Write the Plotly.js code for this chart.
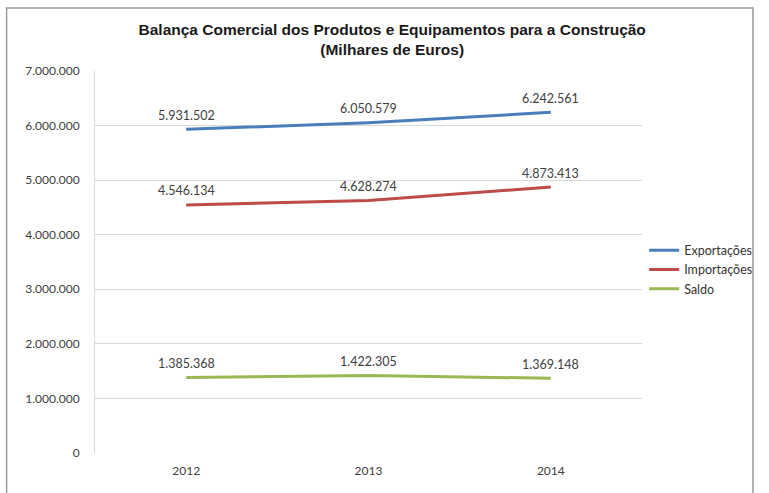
<!DOCTYPE html>
<html>
<head>
<meta charset="utf-8">
<script src="https://cdn.plot.ly/plotly-3.0.1.min.js"></script>
<style>html,body{margin:0;padding:0;background:#fff;}#chart{width:769px;height:493px;}</style>
</head>
<body>
<div id="chart"></div>
<script>
const years = ['2012', '2013', '2014'];
const exportacoes = [5931502, 6050579, 6242561];
const importacoes = [4546134, 4628274, 4873413];
const saldo = [1385368, 1422305, 1369148];
const seriesNames = ['Exportações', 'Importações', 'Saldo'];
const colors = ['#4a7ebb', '#be4b48', '#98b954'];
const yTicks = [0, 1000000, 2000000, 3000000, 4000000, 5000000, 6000000, 7000000];

const font = 'Lato, "Open Sans", sans-serif';
const fmt = v => String(v).replace(/\B(?=(\d{3})+(?!\d))/g, '.');
const allSeries = [exportacoes, importacoes, saldo];

const data = allSeries.map((vals, i) => ({
  x: years, y: vals, name: seriesNames[i], type: 'scatter', mode: 'lines',
  line: {color: colors[i], width: 3}
}));

const annotations = [];
allSeries.forEach(vals => {
  vals.forEach((v, j) => {
    annotations.push({x: j, y: v, xref: 'x', yref: 'y', text: fmt(v), showarrow: false,
      yshift: 14, font: {family: font, size: 12.5, color: '#404040'}});
  });
});

const layout = {
  width: 769, height: 493,
  margin: {l: 95, r: 117, t: 71, b: 40},
  separators: ',.',
  paper_bgcolor: '#fff', plot_bgcolor: '#fff',
  title: {text: '<b>Balança Comercial dos Produtos e Equipamentos para a Construção<br>(Milhares de Euros)</b>',
    font: {family: 'Liberation Sans, Arial, sans-serif', size: 15.5, color: '#1a1a1a'},
    x: 0.51, xanchor: 'center', y: 0.93, yanchor: 'top'},
  xaxis: {type: 'category', range: [-0.5, 2.5], showgrid: false, zeroline: false, showline: false,
    ticks: '', ticklabelstandoff: 9, tickfont: {family: font, size: 12, color: '#404040'}},
  yaxis: {range: [0, 7000000], tickvals: yTicks, tickformat: ',d',
    showgrid: true, gridcolor: '#d9d9d9', gridwidth: 1, zeroline: false,
    showline: true, linecolor: '#d9d9d9', ticks: '', ticklabelstandoff: 12,
    tickfont: {family: font, size: 12, color: '#404040'}},
  legend: {x: 1.004, xanchor: 'left', y: 0.48, yanchor: 'middle', itemwidth: 30,
    font: {family: font, size: 12.5, color: '#333'}, tracegroupgap: 0, bgcolor: 'rgba(0,0,0,0)'},
  annotations: annotations,
  shapes: [{type: 'rect', xref: 'paper', yref: 'paper', x0: -0.1616, x1: 1.2029, y0: -0.12, y1: 1.1649,
    line: {color: '#999999', width: 1.5}, fillcolor: 'rgba(0,0,0,0)', layer: 'below'}],
  showlegend: true
};

Plotly.newPlot('chart', data, layout, {displayModeBar: false, staticPlot: true});
</script>
</body>
</html>
